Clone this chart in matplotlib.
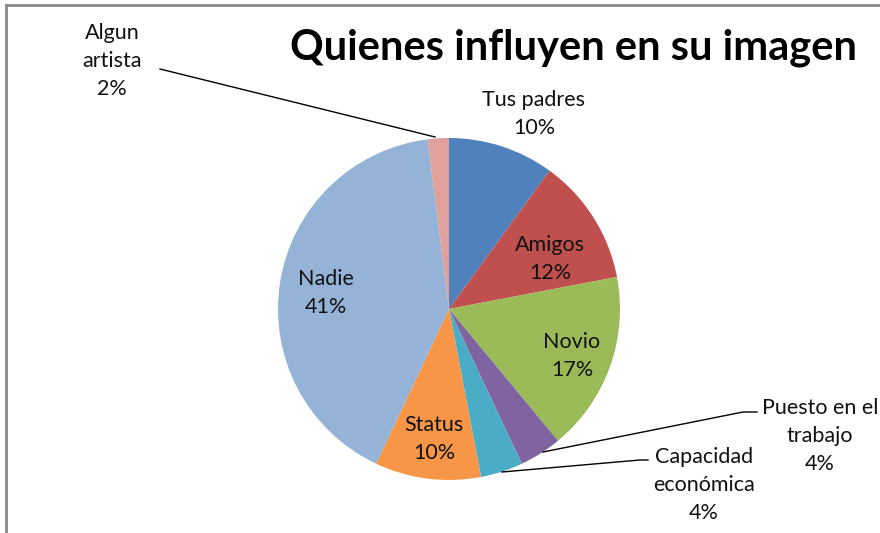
import matplotlib.pyplot as plt
from matplotlib.lines import Line2D

# data
labels = ["Tus padres", "Amigos", "Novio", "Puesto en el\ntrabajo",
          "Capacidad\neconómica", "Status", "Nadie", "Algun\nartista"]
values = [10, 12, 17, 4, 4, 10, 41, 2]
colors = ["#4F81BD", "#C0504D", "#9BBB59", "#8064A2",
          "#4BACC6", "#F79646", "#95B3D7", "#E0A09B"]

W, H = 880, 533
# label centres in pixel coords (x, y from top)
label_pos = [(534, 114), (550, 259), (572, 356), (820, 436),
             (704, 485), (434, 439), (326, 293), (112, 61)]

plt.rcParams['font.family'] = ['Lato', 'DejaVu Sans']

fig = plt.figure(figsize=(W / 100, H / 100), dpi=100)
ax = fig.add_axes([0, 0, 1, 1])

cx, cy, r = 449, 309, 171
ax.pie(values, colors=colors, startangle=90, counterclock=False,
       center=(cx, H - cy), radius=r, frame=True,
       wedgeprops=dict(linewidth=0))
ax.set_xlim(0, W)
ax.set_ylim(0, H)
ax.set_aspect('equal')
ax.axis('off')

for lab, v, (x, y) in zip(labels, values, label_pos):
    ax.text(x, H - y, f"{lab}\n{v}%", ha='center', va='center',
            fontsize=15.5, color='#111111', linespacing=1.5)

# leader lines
leaders = [
    [(160, 69), (435, 137)],
    [(757, 412), (743, 412), (543, 452)],
    [(648, 460), (640, 460), (502, 472)],
]
for pts in leaders:
    xs = [p[0] for p in pts]
    ys = [H - p[1] for p in pts]
    ax.plot(xs, ys, color='black', lw=1)

ax.text(574, H - 48, "Quienes influyen en su imagen", ha='center', va='center',
        fontsize=30, fontweight='bold', color='black')

# chart frame (top and left edges)
fig.add_artist(Line2D([6 / W, 1], [1 - 5 / H, 1 - 5 / H], color='#888888', lw=2))
fig.add_artist(Line2D([6 / W, 6 / W], [0, 1 - 5 / H], color='#888888', lw=2))

fig.savefig("out.png", dpi=100)
